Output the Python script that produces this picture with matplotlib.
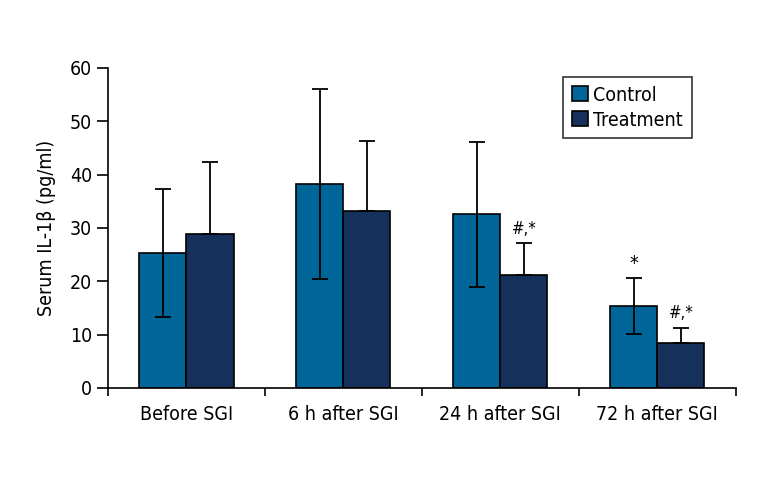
import numpy as np
import matplotlib
matplotlib.use('Agg')
import matplotlib.pyplot as plt
from matplotlib import font_manager

# narrow font like the original figure, if one is around
narrow = [f.name for f in font_manager.fontManager.ttflist
          if f.stretch in ('condensed', 'semi-condensed', 'extra-condensed') or 'Narrow' in f.name or 'Condensed' in f.name]
plt.rcParams['font.family'] = (narrow[:1] if narrow else []) + ['DejaVu Sans']
plt.rcParams['font.stretch'] = 'condensed'

groups = ['Before SGI', '6 h after SGI', '24 h after SGI', '72 h after SGI']
control = [25.4, 38.3, 32.6, 15.4]
control_err = [12.0, 17.8, 13.6, 5.2]
treatment = [28.9, 33.2, 21.1, 8.4]
treatment_err = [13.4, 13.2, 6.0, 2.9]
control_marks = ['', '', '', '*']
treatment_marks = ['', '', '#,*', '#,*']

c_col = '#006699'
t_col = '#15305a'

fig = plt.figure(figsize=(7.68, 4.8), dpi=100)
ax = fig.add_axes([0.1406, 0.1917, 0.8174, 0.6667])

x = np.arange(len(groups))
w = 0.3
ax.bar(x - w / 2, control, w, color=c_col, edgecolor='black', linewidth=1.2,
       label='Control', zorder=2)
ax.bar(x + w / 2, treatment, w, color=t_col, edgecolor='black', linewidth=1.2,
       label='Treatment', zorder=2)
ax.errorbar(x - w / 2, control, yerr=control_err, fmt='none', ecolor='black',
            elinewidth=1.3, capsize=5.5, capthick=1.3, zorder=3)
ax.errorbar(x + w / 2, treatment, yerr=[np.zeros(len(x)), treatment_err], fmt='none',
            ecolor='black', elinewidth=1.3, capsize=5.5, capthick=1.3, zorder=3)

for i in range(len(x)):
    if control_marks[i]:
        ax.text(x[i] - w / 2, control[i] + control_err[i] + 1.0, control_marks[i],
                ha='center', va='bottom', fontsize=14)
    if treatment_marks[i]:
        ax.text(x[i] + w / 2, treatment[i] + treatment_err[i] + 1.0, treatment_marks[i],
                ha='center', va='bottom', fontsize=12)

ax.set_xlim(-0.5, len(groups) - 0.5)
ax.set_ylim(0, 60)
ax.set_yticks(np.arange(0, 61, 10))
ax.set_xticks(x)
ax.set_xticklabels(groups)
ax.set_xticks(np.arange(-0.5, len(groups), 1), minor=True)
ax.tick_params(axis='x', which='major', length=0, pad=12, labelsize=14)
ax.tick_params(axis='x', which='minor', length=6, width=1.2, direction='out')
ax.tick_params(axis='y', length=8, width=1.2, direction='out', labelsize=14)
ax.spines['top'].set_visible(False)
ax.spines['right'].set_visible(False)
ax.spines['left'].set_linewidth(1.2)
ax.spines['bottom'].set_linewidth(1.2)
ax.set_ylabel('Serum IL-1β (pg/ml)', fontsize=14, labelpad=10)

leg = ax.legend(loc='upper right', bbox_to_anchor=(0.93, 0.972), borderaxespad=0,
                fontsize=14, frameon=True, fancybox=False, handlelength=0.8,
                handleheight=0.8, handletextpad=0.3, borderpad=0.45, labelspacing=0.3)
leg.get_frame().set_edgecolor('black')
leg.get_frame().set_linewidth(1.2)

fig.savefig('out.png', dpi=100)
